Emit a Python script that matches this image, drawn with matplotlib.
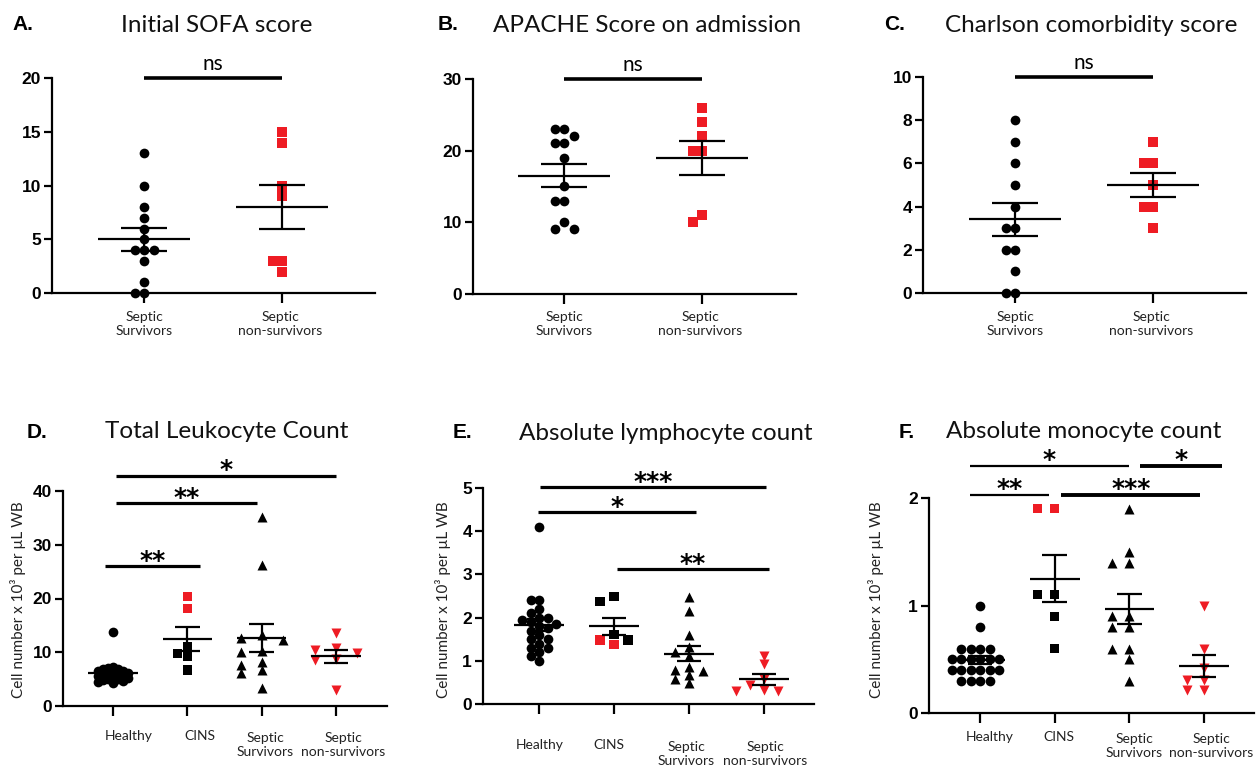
import numpy as np
import matplotlib
matplotlib.use("Agg")
import matplotlib.pyplot as plt

W, H, DPI = 1256, 769, 100
RED = '#ee1c24'
BLK = '#000000'
TXT_FONT = ['Lato', 'DejaVu Sans']
NUM_FONT = ['Liberation Sans', 'DejaVu Sans']

# ---------------- data ----------------
cats_2 = ["Septic\nSurvivors", "Septic\nnon-survivors"]
cats_4 = ["Healthy", "CINS", "Septic\nSurvivors", "Septic\nnon-survivors"]

sofa_surv = [13, 10, 8, 7, 6, 5, 4, 4, 4, 3, 1, 0, 0]
sofa_nonsurv = [15, 14, 10, 9, 3, 3, 2]
apache_surv = [23, 23, 22, 21, 21, 19, 15, 13, 13, 10, 9, 9]
apache_nonsurv = [26, 24, 22, 20, 20, 11, 10]
charlson_surv = [8, 7, 6, 5, 4, 3, 3, 2, 2, 1, 0, 0]
charlson_nonsurv = [7, 6, 6, 5, 4, 4, 3]

wbc_healthy = [13.7, 7.3, 7.0, 6.9, 6.8, 6.6, 6.5, 6.3, 6.2, 6.0, 5.9, 5.8,
               5.6, 5.5, 5.3, 5.2, 5.0, 5.0, 4.9, 4.7, 4.5, 4.2]
wbc_cins = [20.3, 18.2, 11.0, 9.8, 9.2, 6.7]
wbc_cins_red = [True, True, False, False, False, False]
wbc_surv = [35.2, 26.2, 13.2, 12.6, 12.3, 10.3, 10.1, 8.2, 7.6, 6.7, 6.1, 3.3]
wbc_nonsurv = [13.5, 10.7, 10.5, 9.9, 8.7, 8.6, 3.0]

lym_healthy = [4.1, 2.4, 2.4, 2.2, 2.1, 2.0, 2.0, 1.95, 1.9, 1.85, 1.8, 1.75,
               1.7, 1.6, 1.5, 1.5, 1.4, 1.3, 1.3, 1.2, 1.1, 1.0]
lym_cins = [2.48, 2.38, 1.6, 1.48, 1.48, 1.37]
lym_cins_red = [False, False, False, True, False, True]
lym_surv = [2.47, 2.16, 1.6, 1.33, 1.21, 1.1, 0.86, 0.79, 0.77, 0.67, 0.57, 0.48]
lym_nonsurv = [1.12, 0.92, 0.58, 0.45, 0.32, 0.30, 0.30]

mono_healthy = [1.0, 0.8, 0.6, 0.6, 0.6, 0.6, 0.5, 0.5, 0.5, 0.5, 0.5, 0.5,
                0.4, 0.4, 0.4, 0.4, 0.4, 0.4, 0.3, 0.3, 0.3, 0.3]
mono_cins = [1.9, 1.9, 1.1, 1.1, 0.9, 0.6]
mono_cins_red = [True, True, False, False, False, False]
mono_surv = [1.9, 1.5, 1.4, 1.4, 0.9, 0.9, 0.8, 0.8, 0.6, 0.6, 0.5, 0.3]
mono_nonsurv = [1.0, 0.6, 0.42, 0.31, 0.31, 0.21, 0.21]

titles = ["Initial SOFA score", "APACHE Score on admission", "Charlson comorbidity score",
          "Total Leukocyte Count", "Absolute lymphocyte count", "Absolute monocyte count"]
letters = ["A.", "B.", "C.", "D.", "E.", "F."]
ylabel = "Cell number x 10\u00b3 per \u00b5L WB"

# ---------------- helpers ----------------
fig = plt.figure(figsize=(W / DPI, H / DPI), dpi=DPI)


def swarm(vals, px_y, dx_min, dy_min, step):
    """GraphPad-like column scatter: offsets in px, rectangular collision."""
    vals = np.asarray(vals, float)
    order = np.argsort(-vals, kind='stable')
    placed = []
    offs = np.zeros(len(vals))
    cands = [0]
    for j in range(1, 60):
        cands += [-j, j]
    for i in order:
        y = vals[i] * px_y
        for c in cands:
            x = c * step
            if all(not (abs(x - px) < dx_min - 1e-6 and abs(y - py) < dy_min - 1e-6)
                   for px, py in placed):
                break
        placed.append((x, y))
        offs[i] = x
    return offs


def make_axes(box, c0, sp, ncat, ymax, yticks):
    l, t, r, b = box
    ax = fig.add_axes([l / W, 1 - b / H, (r - l) / W, (b - t) / H])
    ax.set_xlim(-(c0 - l) / sp, (r - c0) / sp)
    ax.set_ylim(0, ymax)
    for s in ['top', 'right']:
        ax.spines[s].set_visible(False)
    for s in ['left', 'bottom']:
        ax.spines[s].set_linewidth(1.6)
    ax.set_xticks(range(ncat))
    ax.set_xticklabels([''] * ncat)
    ax.set_yticks(yticks)
    ax.set_yticklabels([str(v) for v in yticks], fontfamily=NUM_FONT,
                       fontweight='bold', fontsize=12.5)
    ax.tick_params(axis='x', length=7, width=1.6, direction='out')
    ax.tick_params(axis='y', length=6, width=1.6, direction='out', pad=2)
    ax.patch.set_alpha(0)
    ax._px = (sp, (b - t) / ymax)
    return ax


def group(ax, pos, vals, colors, marker, ms, dx, dy, step, mw=0.333, cw=0.165):
    sp, py = ax._px
    offs = swarm(vals, py, dx, dy, step) / sp
    ax.scatter(pos + offs, vals, s=ms ** 2, c=colors, marker=marker,
               linewidths=0, clip_on=False, zorder=3)
    v = np.asarray(vals, float)
    m = v.mean()
    se = v.std(ddof=1) / np.sqrt(len(v))
    kw = dict(color='k', lw=1.6, zorder=4, solid_capstyle='butt', clip_on=False)
    ax.plot([pos - mw, pos + mw], [m, m], **kw)
    ax.plot([pos, pos], [m - se, m + se], **kw)
    ax.plot([pos - cw, pos + cw], [m + se] * 2, **kw)
    ax.plot([pos - cw, pos + cw], [m - se] * 2, **kw)


def sig(ax, x0, x1, y, txt, lw=2.3):
    ax.plot([x0, x1], [y, y], color='k', lw=lw, clip_on=False,
            solid_capstyle='butt', zorder=5)
    if txt == 'ns':
        ax.annotate(txt, xy=((x0 + x1) / 2, y), xytext=(0, 3), textcoords='offset points',
                    ha='center', va='bottom', fontfamily=TXT_FONT, fontsize=15,
                    annotation_clip=False)
    else:
        ax.annotate(txt, xy=((x0 + x1) / 2, y), xytext=(0, -1), textcoords='offset points',
                    ha='center', va='baseline', fontfamily=['DejaVu Sans'], fontsize=18,
                    fontweight='bold', annotation_clip=False)


def cat_labels(labels, xs, y1):
    """y1 = centre of the first text line (pixels from top)."""
    for lab, x in zip(labels, xs):
        nlines = lab.count('\n') + 1
        y = y1 if nlines == 1 else y1 + 9
        fig.text(x / W, 1 - y / H, lab, ha='center', va='center', fontsize=10,
                 fontfamily=TXT_FONT, linespacing=1.25, color='#222222')


def head(letter, lx, title, tx, y):
    fig.text(lx / W, 1 - y / H, letter, ha='left', va='center', fontsize=15,
             fontweight='bold', fontfamily=NUM_FONT)
    fig.text(tx / W, 1 - y / H, title, ha='center', va='center', fontsize=17.5,
             fontfamily=TXT_FONT, color='#111111')


def ylab(x, y):
    fig.text(x / W, 1 - y / H, ylabel, rotation=90, ha='center', va='center',
             fontsize=11, fontfamily=TXT_FONT, color='#222222')


def cins_colors(flags):
    return [RED if f else BLK for f in flags]


# ---------------- top row ----------------
top = [
    ((52, 78, 375, 293), 144, 20, [0, 5, 10, 15, 20], sofa_surv, sofa_nonsurv),
    ((473, 79, 796, 294), 564, 30, [0, 10, 20, 30], apache_surv, apache_nonsurv),
    ((923, 77, 1246, 293), 1015, 10, [0, 2, 4, 6, 8, 10], charlson_surv, charlson_nonsurv),
]
for k, (box, c0, ymax, yt, s, ns) in enumerate(top):
    ax = make_axes(box, c0, 138, 2, ymax, yt)
    group(ax, 0, s, BLK, 'o', 7.0, 9.5, 9.5, 4.75)
    group(ax, 1, ns, RED, 's', 6.6, 9.5, 9.5, 4.75)
    sig(ax, 0, 1, ymax, 'ns', lw=2.6)
    cat_labels(cats_2, [c0, c0 + 136], 315)

head(letters[0], 12, titles[0], 217, 25)
head(letters[1], 438, titles[1], 647, 25)
head(letters[2], 884, titles[2], 1091, 25)

# ---------------- bottom row ----------------
# D
ax = make_axes((63, 491, 387, 706), 113, 74.3, 4, 40, [0, 10, 20, 30, 40])
group(ax, 0, wbc_healthy, BLK, 'o', 7.0, 5.0, 4.5, 2.5)
group(ax, 1, wbc_cins, cins_colors(wbc_cins_red), 's', 6.6, 9.5, 9.5, 5)
group(ax, 2, wbc_surv, BLK, '^', 7.2, 21, 8, 10.5)
group(ax, 3, wbc_nonsurv, RED, 'v', 7.2, 21, 8, 10.5)
sig(ax, -0.11, 1.17, 26.0, '**')
sig(ax, 0.04, 1.94, 37.7, '**')
sig(ax, 0.04, 3.0, 42.8, '*')
cat_labels(cats_4, [129, 200, 265, 343], 736)
head(letters[3], 27, titles[3], 227, 432)
ylab(18, 600)

# E
ax = make_axes((483, 488, 814, 704), 539, 75, 4, 5, [0, 1, 2, 3, 4, 5])
group(ax, 0, lym_healthy, BLK, 'o', 7.0, 8.5, 7.5, 4.25)
group(ax, 1, lym_cins, cins_colors(lym_cins_red), 's', 6.6, 14, 8, 7)
group(ax, 2, lym_surv, BLK, '^', 7.2, 14, 8, 7)
group(ax, 3, lym_nonsurv, RED, 'v', 7.2, 14, 8, 7)
sig(ax, 0.01, 3.03, 5.02, '***')
sig(ax, -0.02, 2.09, 4.44, '*')
sig(ax, 1.04, 3.07, 3.12, '**')
cat_labels(cats_4, [540, 609, 686, 765], 745)
head(letters[4], 453, titles[4], 666, 433)
ylab(443, 600)

# F
ax = make_axes((929, 498, 1254, 713), 980, 74.7, 4, 2, [0, 1, 2])
group(ax, 0, mono_healthy, BLK, 'o', 7.0, 9.5, 9.5, 4.75)
group(ax, 1, mono_cins, cins_colors(mono_cins_red), 's', 6.6, 17, 9, 8.5)
group(ax, 2, mono_surv, BLK, '^', 7.2, 17, 9, 8.5)
group(ax, 3, mono_nonsurv, RED, 'v', 7.2, 17, 9, 8.5)
sig(ax, -0.13, 1.99, 2.30, '*', lw=1.6)
sig(ax, 2.14, 3.24, 2.30, '*', lw=2.8)
sig(ax, -0.14, 0.93, 2.03, '**', lw=1.6)
sig(ax, 1.09, 2.95, 2.03, '***', lw=2.8)
cat_labels(cats_4, [990, 1059, 1134, 1211], 737)
head(letters[5], 899, titles[5], 1084, 432)
ylab(876, 600)

fig.savefig('out.png', dpi=DPI)
